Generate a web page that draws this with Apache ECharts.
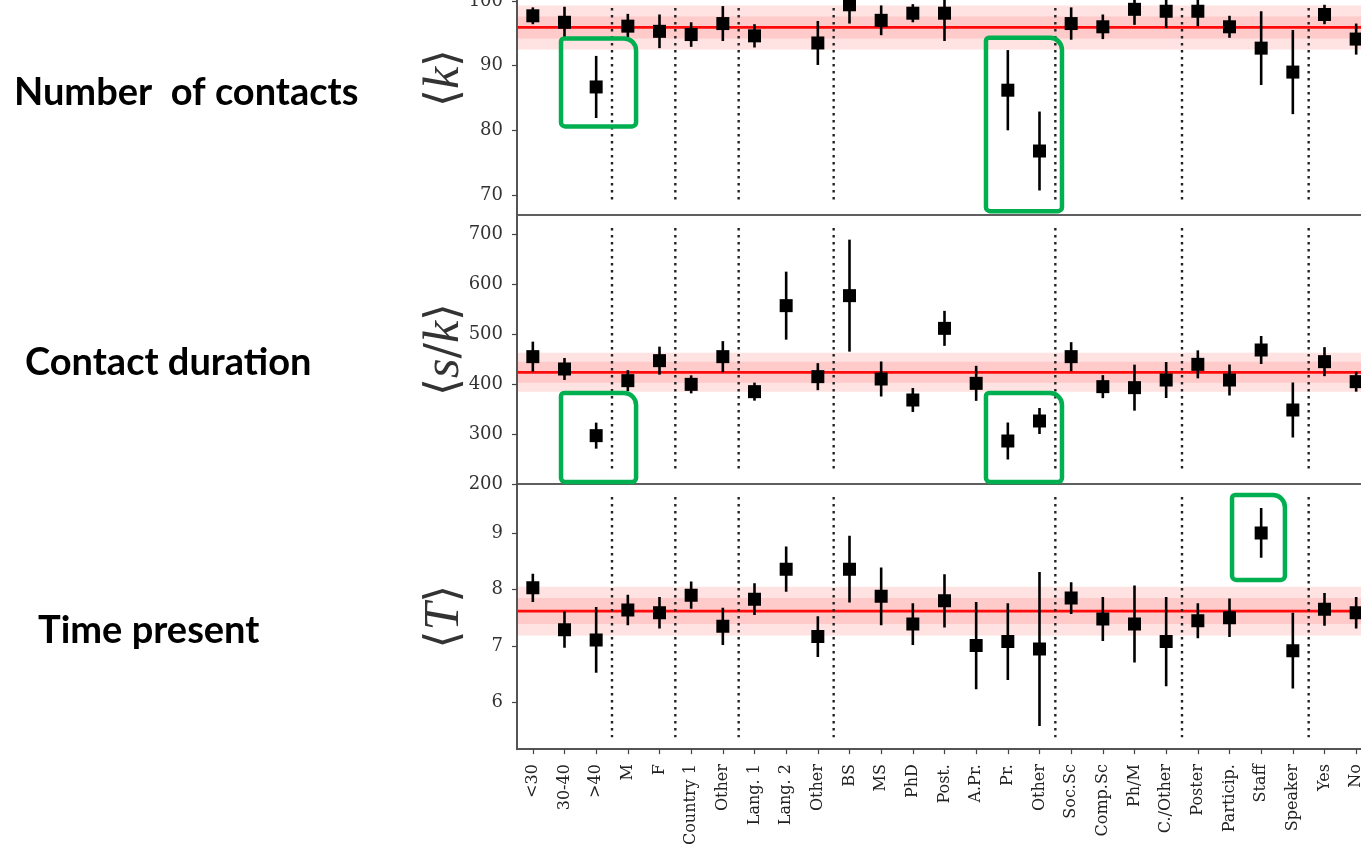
<!DOCTYPE html>
<html>
<head>
<meta charset="utf-8">
<script src="https://cdn.jsdelivr.net/npm/echarts@6.0.0/dist/echarts.min.js"></script>
<style>
html,body{margin:0;padding:0;background:#fff;width:1361px;height:848px;overflow:hidden;position:relative;}
#chart{position:absolute;left:0;top:-80px;width:1400px;height:928px;}
</style>
</head>
<body>
<div id="chart"></div>
<script>
// ---------------- DATA ----------------
const categories = ['<30','30-40','>40','M','F','Country 1','Other','Lang. 1','Lang. 2','Other','BS','MS','PhD','Post.','A.Pr.','Pr.','Other','Soc.Sc','Comp.Sc','Ph/M','C./Other','Poster','Particip.','Staff','Speaker','Yes','No'];
// group separators: break after these category indices
const groupBreaks = [2, 4, 6, 9, 16, 20, 24];

// <k> number of contacts
const kMean = [97.7, 96.7, 86.7, 96.1, 95.3, 94.8, 96.5, 94.6, 104.0, 93.5, 99.4, 97.0, 98.1, 98.1, 103.5, 86.2, 76.8, 96.5, 96.0, 98.7, 98.4, 98.4, 96.0, 92.7, 89.0, 97.9, 94.1];
const kErr  = [1.3, 2.4, 4.8, 1.9, 2.6, 1.9, 2.7, 1.8, 3.0, 3.4, 2.9, 2.3, 1.4, 4.3, 2.5, 6.2, 6.1, 2.5, 1.9, 2.4, 2.6, 2.3, 1.7, 5.7, 6.5, 1.5, 2.4];
const kAvg = 95.9, kBandInner = 1.7, kBandOuter = 3.4;
const kTicks = [70, 80, 90, 100];

// <s/k> contact duration
const sMean = [454.7, 430, 296.7, 406.7, 446.7, 399.3, 454.7, 384.7, 556.7, 414.7, 576.7, 410, 368, 511.3, 401.3, 286, 326, 454.7, 394.7, 392.7, 408, 439.3, 408, 468, 348, 444.7, 404.7];
const sErr  = [30, 22, 26, 21, 28, 18, 31, 18, 68, 27, 112, 35, 24, 35, 35, 37, 26, 29, 23, 46, 36, 28, 31, 28, 55, 29, 20];
const sAvg = 423.4, sBandInner = 21, sBandOuter = 39;
const sTicks = [200, 300, 400, 500, 600, 700];

// <T> time present
const tMean = [8.03, 7.29, 7.11, 7.64, 7.59, 7.90, 7.35, 7.83, 8.36, 7.17, 8.36, 7.88, 7.39, 7.80, 7.01, 7.08, 6.95, 7.85, 7.48, 7.39, 7.08, 7.45, 7.50, 9.00, 6.92, 7.65, 7.59];
const tErr  = [0.25, 0.32, 0.58, 0.27, 0.28, 0.24, 0.33, 0.28, 0.40, 0.36, 0.59, 0.51, 0.37, 0.47, 0.77, 0.68, 1.36, 0.28, 0.39, 0.68, 0.79, 0.31, 0.34, 0.44, 0.67, 0.29, 0.28];
const tAvg = 7.62, tBandInner = 0.23, tBandOuter = 0.43;
const tTicks = [6, 7, 8, 9];

const rowTitles = ['Number  of contacts', 'Contact duration', 'Time present'];

// highlighted regions (category-index span, value span) per panel
const highlights = [
  {grid: 0, x: [0.89, 3.26], y: [94.2, 80.6]},
  {grid: 0, x: [14.31, 16.71], y: [94.3, 67.5]},
  {grid: 1, x: [0.89, 3.26], y: [382, 204]},
  {grid: 1, x: [14.31, 16.71], y: [382, 204]},
  {grid: 2, x: [22.08, 23.75], y: [9.67, 8.17]}
];

// ---------------- CHART ----------------
const OY = 80; // container is shifted up by this many pixels
const chart = echarts.init(document.getElementById('chart'));
const SERIF = "'DejaVu Serif', serif";

const grids = [
  {left: 517, right: 28, top: -59 + OY, height: 274},
  {left: 517, right: 28, top: 215 + OY, height: 269},
  {left: 517, right: 28, top: 484 + OY, height: 268}
].map(g => Object.assign(g, {show: true, borderColor: '#555', borderWidth: 1.6, backgroundColor: 'transparent'}));

function xAxisFor(i, showLabels) {
  return {
    type: 'category', gridIndex: i, data: categories, boundaryGap: true,
    show: showLabels,
    axisLine: {show: true, lineStyle: {color: '#555', width: 2}},
    axisTick: {show: showLabels, alignWithLabel: true, length: 5, lineStyle: {color: '#444', width: 1.2}},
    axisLabel: {show: showLabels, rotate: 90, interval: 0, margin: 15, fontFamily: SERIF, fontSize: 16, color: '#222'},
    splitLine: {show: false}
  };
}
function yAxisFor(i, min, max, ticks, name, gap) {
  return {
    type: 'value', gridIndex: i, min: min, max: max,
    name: name, nameLocation: 'middle', nameRotate: 90, nameGap: gap, nameMoveOverlap: false,
    nameTextStyle: {rich: richName},
    axisLine: {show: true, lineStyle: {color: '#555', width: 2}},
    axisTick: {show: true, length: 5, customValues: ticks, lineStyle: {color: '#444', width: 1.2}},
    axisLabel: {show: true, customValues: ticks, margin: 14, fontFamily: SERIF, fontSize: 18, color: '#333'},
    splitLine: {show: false}
  };
}
const richName = {
  a: {fontFamily: "'DejaVu Serif', 'DejaVu Sans', serif", fontSize: 46, color: '#333'},
  i: {fontFamily: "'Liberation Serif', serif", fontStyle: 'italic', fontSize: 50, color: '#333'}
};

function bandSeries(gi, avg, inner, outer) {
  return {
    type: 'custom', xAxisIndex: gi, yAxisIndex: gi, z: 1, silent: true,
    data: [[0, avg, inner, outer]],
    encode: {x: 0, y: 1},
    renderItem: function (params, api) {
      const cs = params.coordSys;
      const m = api.value(1), a = api.value(2), b = api.value(3);
      const y = v => api.coord([0, v])[1];
      const x0 = cs.x + 1, w = cs.width - 1;
      return {type: 'group', children: [
        {type: 'rect', shape: {x: x0, y: y(m + b), width: w, height: y(m - b) - y(m + b)}, style: {fill: '#ffe2e2'}},
        {type: 'rect', shape: {x: x0, y: y(m + a), width: w, height: y(m - a) - y(m + a)}, style: {fill: '#ffcaca'}},
        {type: 'line', shape: {x1: x0, y1: y(m), x2: x0 + w, y2: y(m)}, style: {stroke: '#ff0a0a', lineWidth: 2.8}}
      ]};
    }
  };
}
function sepSeries(gi, insetTop, insetBottom) {
  return {
    type: 'custom', xAxisIndex: gi, yAxisIndex: gi, z: 2, silent: true,
    data: groupBreaks.map(b => [b]),
    encode: {x: 0},
    renderItem: function (params, api) {
      const cs = params.coordSys;
      const b = api.value(0);
      const x = (api.coord([b, 0])[0] + api.coord([b + 1, 0])[0]) / 2;
      return {type: 'line', shape: {x1: x, y1: cs.y + insetTop, x2: x, y2: cs.y + cs.height - insetBottom},
        style: {stroke: '#222', lineWidth: 2.4, lineDash: [2.4, 4.6], lineCap: 'butt'}};
    }
  };
}
function errSeries(gi, means, errs) {
  return {
    type: 'custom', xAxisIndex: gi, yAxisIndex: gi, z: 3, silent: true, clip: true,
    data: means.map((m, i) => [i, m, errs[i]]),
    encode: {x: 0, y: 1},
    renderItem: function (params, api) {
      const i = api.value(0), m = api.value(1), e = api.value(2);
      const c = api.coord([i, m]);
      const hi = api.coord([i, m + e]);
      const lo = api.coord([i, m - e]);
      return {type: 'group', children: [
        {type: 'line', shape: {x1: c[0], y1: hi[1], x2: c[0], y2: lo[1]}, style: {stroke: '#000', lineWidth: 2.6}},
        {type: 'rect', shape: {x: c[0] - 6.5, y: c[1] - 6.5, width: 13, height: 13}, style: {fill: '#000'}}
      ]};
    }
  };
}

const titleFont = "Lato, 'Open Sans', sans-serif";
function titleText(id, txt, x, yMid) {
  return {type: 'text', id: id, x: x, y: yMid + OY,
    style: {text: txt, font: "bold 38px " + titleFont, fill: '#000', verticalAlign: 'middle', align: 'left'}};
}
const option = {
  animation: false,
  backgroundColor: '#fff',
  grid: grids,
  xAxis: [xAxisFor(0, false), xAxisFor(1, false), xAxisFor(2, true)],
  yAxis: [
    yAxisFor(0, 66.91, 109.26, kTicks, '{a|⟨}{i|k}{a|⟩}', 47),
    yAxisFor(1, 200, 738, sTicks, '{a|⟨}{i|s}{a|/}{i|k}{a|⟩}', 47),
    yAxisFor(2, 5.18, 9.865, tTicks, '{a|⟨}{i|T}{a|⟩}', 47)
  ],
  series: [
    bandSeries(0, kAvg, kBandInner, kBandOuter),
    bandSeries(1, sAvg, sBandInner, sBandOuter),
    bandSeries(2, tAvg, tBandInner, tBandOuter),
    sepSeries(0, 67, 12),
    sepSeries(1, 13, 12),
    sepSeries(2, 13, 12),
    errSeries(0, kMean, kErr),
    errSeries(1, sMean, sErr),
    errSeries(2, tMean, tErr)
  ],
  graphic: [
    titleText('t0', rowTitles[0], 14, 93),
    titleText('t1', rowTitles[1], 25, 363),
    titleText('t2', rowTitles[2], 38, 631)
  ]
};
chart.setOption(option);

// highlight boxes positioned from data coordinates
const boxes = highlights.map((h, k) => {
  const p0 = chart.convertToPixel({gridIndex: h.grid}, [0, h.y[0]]);
  const p1 = chart.convertToPixel({gridIndex: h.grid}, [1, h.y[1]]);
  const step = p1[0] - p0[0];
  const xa = p0[0] + h.x[0] * step, xb = p0[0] + h.x[1] * step;
  return {
    type: 'rect', id: 'box' + k, z: 100,
    shape: {x: xa, y: p0[1], width: xb - xa, height: p1[1] - p0[1], r: [3, 12, 4, 4]},
    style: {fill: 'none', stroke: '#00b050', lineWidth: 4.5}
  };
});
chart.setOption({graphic: boxes});
</script>
</body>
</html>
